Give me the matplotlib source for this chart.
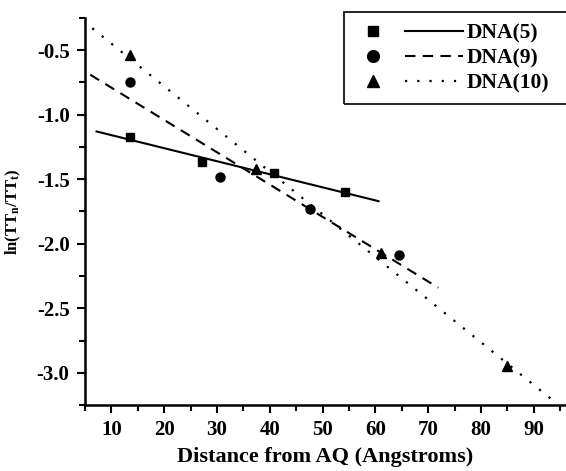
import matplotlib
matplotlib.use("Agg")
import matplotlib.pyplot as plt
from matplotlib.lines import Line2D
from matplotlib.patches import Rectangle
from matplotlib.legend_handler import HandlerBase
from matplotlib.ticker import MultipleLocator

plt.rcParams['font.family'] = ['Liberation Serif', 'DejaVu Serif']
plt.rcParams['font.weight'] = 'bold'
plt.rcParams['axes.unicode_minus'] = False
plt.rcParams['mathtext.fontset'] = 'custom'
plt.rcParams['mathtext.rm'] = 'Liberation Serif:bold'
plt.rcParams['mathtext.it'] = 'Liberation Serif:bold'

# measured points
x5 = [13.6, 27.2, 40.8, 54.3]
y5 = [-1.17, -1.37, -1.45, -1.60]
x9 = [13.6, 30.5, 47.7, 64.5]
y9 = [-0.75, -1.48, -1.73, -2.09]
x10 = [13.6, 37.4, 61.1, 84.9]
y10 = [-0.54, -1.42, -2.07, -2.95]

# fitted line end points
fit_x5 = [7.2, 60.6]
fit_y5 = [-1.13, -1.67]
fit_x9 = [6.0, 71.9]
fit_y9 = [-0.69, -2.34]
fit_x10 = [6.4, 93.2]
fit_y10 = [-0.33, -3.20]

labels = ['DNA(5)', 'DNA(9)', 'DNA(10)']


# legend entry: marker on the left, line segment on the right
class MarkerThenLine(HandlerBase):
    def create_artists(self, legend, orig_handle, xdescent, ydescent,
                       width, height, fontsize, trans):
        m, l = orig_handle
        y = height / 2 - ydescent
        mk = Line2D([0], [0])
        mk.update_from(m)
        mk.set_markersize(m.get_markersize() * 1.3)
        mk.set_data([width * 0.16 - xdescent], [y])
        mk.set_transform(trans)
        ln = Line2D([0], [0])
        ln.update_from(l)
        ln.set_data([width * 0.46 - xdescent, width - xdescent], [y, y])
        ln.set_transform(trans)
        return [mk, ln]


fig = plt.figure(figsize=(5.66, 4.71), dpi=100)
ax = fig.add_axes([0.150, 0.140, 0.849, 0.822])

m5, = ax.plot(x5, y5, 's', color='black', ms=6, linestyle='none')
m9, = ax.plot(x9, y9, 'o', color='black', ms=6.5, linestyle='none')
m10, = ax.plot(x10, y10, '^', color='black', ms=7, linestyle='none')
l5, = ax.plot(fit_x5, fit_y5, color='black', lw=1.5, linestyle='-')
l9, = ax.plot(fit_x9, fit_y9, color='black', lw=1.5, linestyle=(0, (5, 3.5)))
l10, = ax.plot(fit_x10, fit_y10, color='black', lw=1.6, linestyle=(0, (1, 4.5)))

ax.set_xlim(5, 96)
ax.set_ylim(-3.25, -0.25)
ax.xaxis.set_minor_locator(MultipleLocator(5))
ax.yaxis.set_major_locator(MultipleLocator(0.5))
ax.yaxis.set_minor_locator(MultipleLocator(0.25))
ax.set_xticks(range(10, 100, 10))

for s in ['top', 'right']:
    ax.spines[s].set_visible(False)
for s in ['left', 'bottom']:
    ax.spines[s].set_linewidth(1.8)

ax.tick_params(which='major', direction='out', length=6, width=1.5, labelsize=15, pad=5)
ax.tick_params(which='minor', direction='out', length=4, width=1.5)
for lab in ax.get_xticklabels() + ax.get_yticklabels():
    lab.set_fontweight('bold')

ax.set_xlabel('Distance from AQ (Angstroms)', fontsize=16, fontweight='bold', labelpad=5)
ax.set_ylabel(r'ln(TT$_{\mathregular{n}}$/TT$_{\mathregular{t}}$)', fontsize=12,
              fontweight='bold', labelpad=10)

leg = ax.legend([(m5, l5), (m9, l9), (m10, l10)], labels,
                handler_map={tuple: MarkerThenLine()},
                loc='upper left', bbox_to_anchor=(344 / 566, 459 / 471),
                bbox_transform=fig.transFigure,
                handlelength=5.0, handletextpad=0.15, fontsize=15.5,
                frameon=False, borderpad=0.55, labelspacing=0.22,
                borderaxespad=0.0)
for t in leg.get_texts():
    t.set_fontweight('bold')

# legend box runs off the right edge, as in the original
fig.add_artist(Rectangle((344 / 566, 367 / 471), 240 / 566, 92 / 471,
                         transform=fig.transFigure, fill=False,
                         edgecolor='black', linewidth=1.2))

fig.savefig('out.png', dpi=100)
